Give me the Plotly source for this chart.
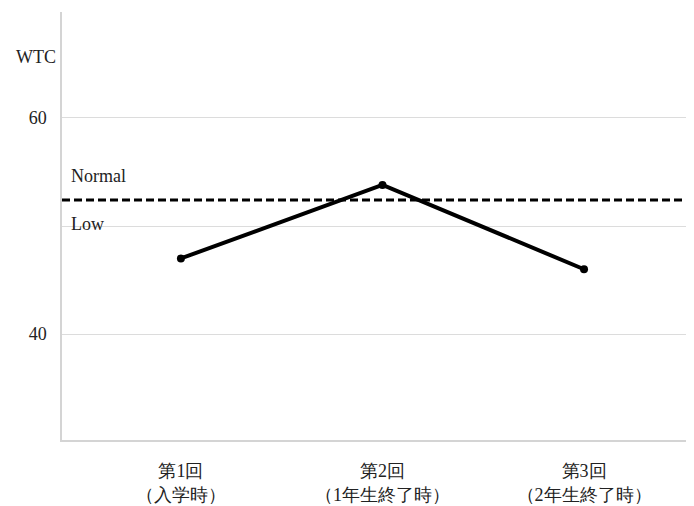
import plotly.graph_objects as go

categories = ["第1回<br>（入学時）", "第2回<br>（1年生終了時）", "第3回<br>（2年生終了時）"]
wtc_values = [47.0, 53.8, 46.0]
threshold = 52.4
y_tickvals = [40, 50, 60]
y_ticktext = ["40", "", "60"]

W, H = 694, 506
L, R, T, B = 62, 8, 12, 66

font_serif = "Liberation Serif"

fig = go.Figure()
fig.add_trace(go.Scatter(
    x=categories, y=wtc_values, mode="lines+markers",
    line=dict(color="black", width=4),
    marker=dict(color="black", size=8),
    showlegend=False, cliponaxis=False,
))
fig.add_shape(type="line", xref="paper", yref="y", x0=0, x1=1,
              y0=threshold, y1=threshold,
              line=dict(color="black", width=3, dash="8px,4px"))

fig.add_annotation(xref="paper", yref="y", x=0.012, y=threshold, yshift=24,
                   text="Normal", showarrow=False, xanchor="left", yanchor="middle",
                   font=dict(family=font_serif, size=18, color="#222"))
fig.add_annotation(xref="paper", yref="y", x=0.012, y=threshold, yshift=-24,
                   text="Low", showarrow=False, xanchor="left", yanchor="middle",
                   font=dict(family=font_serif, size=18, color="#222"))
fig.add_annotation(xref="paper", yref="paper", x=-0.006, y=1 - (57 - T) / (H - T - B),
                   text="WTC", showarrow=False, xanchor="right", yanchor="middle",
                   font=dict(family=font_serif, size=18, color="#222"))

fig.update_layout(
    width=W, height=H,
    margin=dict(l=L, r=R, t=T, b=B, autoexpand=False),
    paper_bgcolor="white", plot_bgcolor="white",
    font=dict(family=font_serif, size=18, color="#222"),
    xaxis=dict(type="category", range=[-0.59, 2.506], showgrid=False,
               showline=True, linecolor="#d4d4d4", linewidth=1.5,
               ticks="", ticklabelstandoff=14, zeroline=False, automargin=False),
    yaxis=dict(range=[30.2, 69.8], tickvals=y_tickvals, ticktext=y_ticktext,
               showgrid=True, gridcolor="#dcdcdc", gridwidth=1,
               showline=True, linecolor="#d4d4d4", linewidth=1.5,
               ticks="", ticklabelstandoff=10, zeroline=False, automargin=False),
)

fig.write_html("out.html", config={"displayModeBar": False},
               post_script="document.body.style.margin='0px';")
